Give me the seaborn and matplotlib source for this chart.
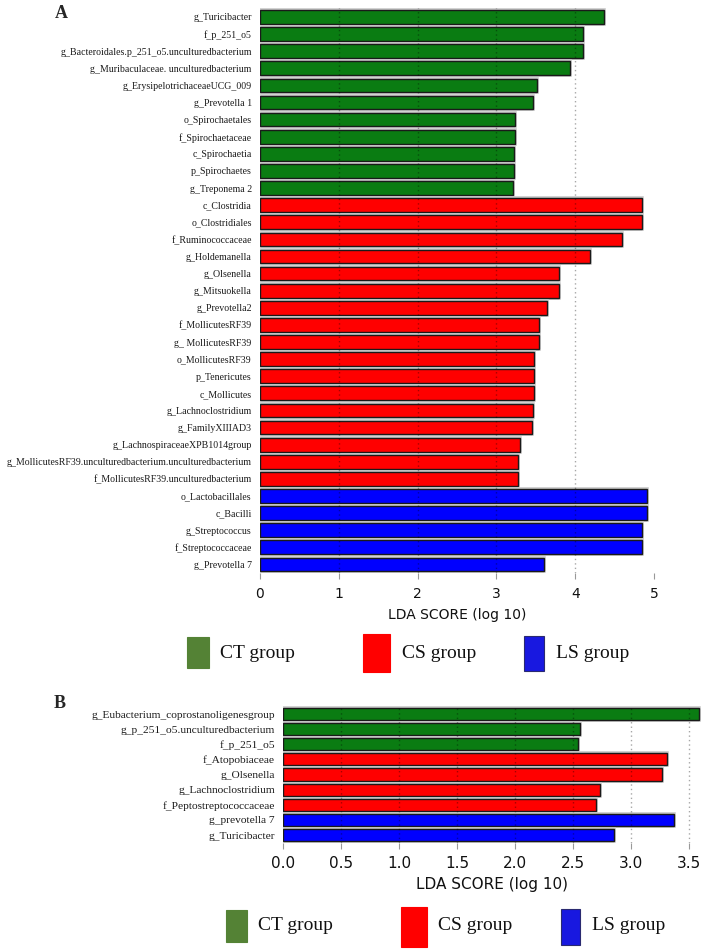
import matplotlib
matplotlib.use("Agg")
import matplotlib.pyplot as plt
import matplotlib.patheffects as pe
from matplotlib.patches import Rectangle
import seaborn as sns
import pandas as pd

# ---------------- data ----------------
labels_a = [
    "g_Turicibacter", "f_p_251_o5", "g_Bacteroidales.p_251_o5.unculturedbacterium",
    "g_Muribaculaceae. unculturedbacterium", "g_ErysipelotrichaceaeUCG_009", "g_Prevotella 1",
    "o_Spirochaetales", "f_Spirochaetaceae", "c_Spirochaetia", "p_Spirochaetes", "g_Treponema 2",
    "c_Clostridia", "o_Clostridiales", "f_Ruminococcaceae", "g_Holdemanella", "g_Olsenella",
    "g_Mitsuokella", "g_Prevotella2", "f_MollicutesRF39", "g_ MollicutesRF39", "o_MollicutesRF39",
    "p_Tenericutes", "c_Mollicutes", "g_Lachnoclostridium", "g_FamilyXIIIAD3",
    "g_LachnospiraceaeXPB1014group",
    "g_MollicutesRF39.unculturedbacterium.unculturedbacterium",
    "f_MollicutesRF39.unculturedbacterium",
    "o_Lactobacillales", "c_Bacilli", "g_Streptococcus", "f_Streptococcaceae", "g_Prevotella 7",
]
values_a = [4.37, 4.10, 4.10, 3.94, 3.51, 3.46, 3.23, 3.23, 3.22, 3.22, 3.21,
            4.85, 4.85, 4.59, 4.19, 3.79, 3.79, 3.64, 3.54, 3.54, 3.48, 3.48, 3.48,
            3.47, 3.45, 3.30, 3.27, 3.27, 4.91, 4.91, 4.85, 4.85, 3.61]
groups_a = ["CT group"] * 11 + ["CS group"] * 17 + ["LS group"] * 5

labels_b = [
    "g_Eubacterium_coprostanoligenesgroup", "g_p_251_o5.unculturedbacterium", "f_p_251_o5",
    "f_Atopobiaceae", "g_Olsenella", "g_Lachnoclostridium", "f_Peptostreptococcaceae",
    "g_prevotella 7", "g_Turicibacter",
]
values_b = [3.59, 2.56, 2.54, 3.31, 3.27, 2.73, 2.70, 3.37, 2.85]
groups_b = ["CT group"] * 3 + ["CS group"] * 4 + ["LS group"] * 2

group_names = ["CT group", "CS group", "LS group"]
bar_colors = {"CT group": "#0a7c12", "CS group": "#ff0000", "LS group": "#0000ff"}
legend_colors = ["#548235", "#ff0000", "#1818e0"]

ticks_a = [0, 1, 2, 3, 4, 5]
ticks_b = [0.0, 0.5, 1.0, 1.5, 2.0, 2.5, 3.0, 3.5]

# ---------------- figure ----------------
sns.set_theme(style="white")
plt.rcParams["font.family"] = ["DejaVu Sans"]

W, H = 702, 949
fig = plt.figure(figsize=(W / 100, H / 100), dpi=100)


def px_axes(left, top, right, bottom):
    return fig.add_axes([left / W, 1 - bottom / H, (right - left) / W, (bottom - top) / H])


def draw_panel(ax, labels, values, groups, xmax, ticks, tick_text, grid_at,
               lab_size, tick_size, xl_pad):
    df = pd.DataFrame({"label": labels, "value": values, "group": groups})
    sns.barplot(data=df, y="label", x="value", hue="group", hue_order=group_names,
                palette=bar_colors, saturation=1, dodge=False, orient="h", width=0.8,
                edgecolor="#1a1a1a", linewidth=1.0, legend=False, ax=ax, zorder=2)
    for p in ax.patches:
        p.set_path_effects([pe.Stroke(linewidth=2.6, foreground="#c8c8c8"), pe.Normal()])
    n = len(labels)
    ax.set_ylim(n - 0.5, -0.55)
    ax.set_xlim(0, xmax)
    for g in grid_at:
        ax.axvline(g, color="black", alpha=0.35, linestyle=(0, (1, 2.2)), linewidth=1.0, zorder=3)
    for s in ax.spines.values():
        s.set_visible(False)
    ax.set_xticks(ticks)
    ax.set_xticklabels(tick_text, fontsize=tick_size, color="#111111")
    ax.tick_params(axis="x", direction="out", length=4, width=0.8, color="#999999", pad=6, bottom=True)
    ax.tick_params(axis="y", length=0, pad=6)
    for t in ax.get_yticklabels():
        t.set_fontfamily("Liberation Serif")
        t.set_fontsize(lab_size)
        t.set_color("#1a1a1a")
    ax.set_ylabel("")
    ax.set_xlabel("LDA SCORE (log 10)", fontsize=tick_size, color="#111111", labelpad=xl_pad)


# Panel A
axA = px_axes(260, 7.5, 654, 573)
draw_panel(axA, labels_a, values_a, groups_a, 5.0, ticks_a, [str(t) for t in ticks_a],
           [1, 2, 3, 4], 7.1, 10, 5)

# Panel B
axB = px_axes(283.3, 705.7, 700.5, 842.6)
draw_panel(axB, labels_b, values_b, groups_b, 3.6, ticks_b, [f"{t:.1f}" for t in ticks_b],
           [0.5, 1.0, 1.5, 2.0, 2.5, 3.0, 3.5], 8.2, 11, 4)

# Panel letters
fig.text(55 / W, 1 - 14 / H, "A", fontsize=13, fontweight="bold",
         fontfamily="Liberation Serif", va="center", ha="left")
fig.text(54 / W, 1 - 703 / H, "B", fontsize=13, fontweight="bold",
         fontfamily="Liberation Serif", va="center", ha="left")


# Legends
def legend_row(specs, text_y):
    for (x0, y0, x1, y1, tx), name, col in zip(specs, group_names, legend_colors):
        edge = "#2a2a70" if name == "LS group" else col
        fig.add_artist(Rectangle((x0 / W, 1 - y1 / H), (x1 - x0) / W, (y1 - y0) / H,
                                 transform=fig.transFigure, facecolor=col, edgecolor=edge,
                                 linewidth=0.8))
        fig.text(tx / W, 1 - text_y / H, name, fontsize=14, fontfamily="Liberation Serif",
                 va="center", ha="left", color="#111111")


legend_row([(187, 637, 209, 668, 220), (363, 634, 390, 672, 402), (524, 636, 544, 671, 556)], 653)
legend_row([(226, 910, 247, 942, 258), (401, 907, 427, 947, 438), (561, 909, 580, 945, 592)], 926)

fig.savefig("out.png", dpi=100)
